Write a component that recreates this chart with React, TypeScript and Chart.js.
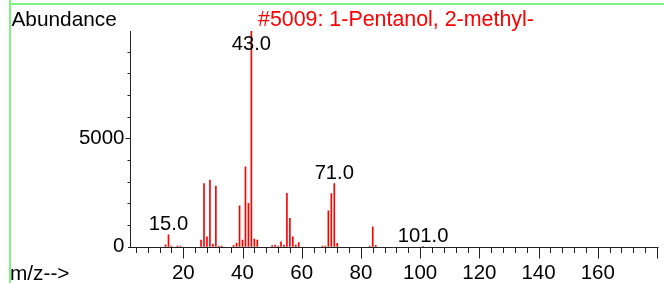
import React, { useEffect, useRef } from "react";
import { Chart, registerables } from "chart.js";

Chart.register(...registerables);

// m/z values and their abundances
const mzValues = [14, 15, 16, 18, 19, 26, 27, 28, 29, 30, 31, 32, 33, 37, 38, 39, 40, 41, 42, 43, 44, 45, 50, 51, 52, 53, 54, 55, 56, 57, 58, 59, 67, 68, 69, 70, 71, 72, 83, 84, 85, 101];
const abundances = [90, 550, 30, 30, 30, 310, 2920, 450, 3080, 125, 2800, 30, 30, 60, 170, 1890, 310, 3690, 2000, 9960, 355, 310, 50, 75, 25, 230, 75, 2460, 1310, 460, 75, 185, 30, 30, 1660, 2450, 2920, 150, 30, 920, 60, 15];
const labeledPeaks = [15, 43, 71, 101];
const xTickLabels = [20, 40, 60, 80, 100, 120, 140, 160];
const yTickLabels = [0, 5000];
const titleText = "#5009: 1-Pentanol, 2-methyl-";
const yAxisTitle = "Abundance";
const xAxisTitle = "m/z-->";

const X_MIN = 2;
const X_MAX = 180;
const Y_MAX = 9960;

const FONT = '"Liberation Sans", Arial, sans-serif';

const overlayPlugin = {
  id: "msOverlay",
  afterDatasetsDraw(chart: any) {
    const ctx = chart.ctx as CanvasRenderingContext2D;
    const xs = chart.scales.x;
    const ys = chart.scales.y;
    const area = chart.chartArea;
    ctx.save();
    ctx.strokeStyle = "#222";
    ctx.lineWidth = 1;
    const axisY = Math.round(ys.getPixelForValue(0)) + 0.5;
    const axisX = Math.round(area.left) + 0.5;
    // y-axis line
    ctx.beginPath();
    ctx.moveTo(axisX, area.top);
    ctx.lineTo(axisX, axisY);
    ctx.stroke();
    // x-axis line
    ctx.beginPath();
    ctx.moveTo(area.left - 2, axisY);
    ctx.lineTo(xs.getPixelForValue(X_MAX) + 1.5, axisY);
    ctx.stroke();
    // x ticks
    for (let v = 4; v <= X_MAX; v += 4) {
      const px = Math.round(xs.getPixelForValue(v)) + 0.5;
      const major = v % 20 === 0;
      ctx.beginPath();
      ctx.moveTo(px, axisY);
      ctx.lineTo(px, axisY + (major ? 11 : 5.5));
      ctx.stroke();
    }
    // y ticks
    for (let v = 1000; v <= Y_MAX; v += 1000) {
      const py = Math.round(ys.getPixelForValue(v)) + 0.5;
      const major = v % 5000 === 0;
      ctx.beginPath();
      ctx.moveTo(axisX, py);
      ctx.lineTo(axisX - (major ? 5 : 3), py);
      ctx.stroke();
    }
    // tick labels
    ctx.fillStyle = "#000";
    ctx.font = `20.5px ${FONT}`;
    ctx.textAlign = "center";
    ctx.textBaseline = "alphabetic";
    for (const v of xTickLabels) {
      ctx.fillText(String(v), xs.getPixelForValue(v), 278.5);
    }
    ctx.textAlign = "right";
    ctx.textBaseline = "middle";
    for (const v of yTickLabels) {
      ctx.fillText(String(v), 124.5, ys.getPixelForValue(v));
    }
    // axis titles
    ctx.font = `20.8px ${FONT}`;
    ctx.textAlign = "left";
    ctx.textBaseline = "alphabetic";
    ctx.fillText(yAxisTitle, 11.5, 25.5);
    ctx.fillText(xAxisTitle, 10, 280);
    // title
    ctx.fillStyle = "#ff0000";
    ctx.font = `21.4px ${FONT}`;
    ctx.fillText(titleText, 258, 25.5);
    // peak labels
    ctx.fillStyle = "#000";
    ctx.font = `20.2px ${FONT}`;
    ctx.textAlign = "center";
    for (const m of labeledPeaks) {
      const idx = mzValues.indexOf(m);
      const top = ys.getPixelForValue(abundances[idx]);
      const y = Math.max(top - 4.5, area.top + 19);
      ctx.fillText(m.toFixed(1), xs.getPixelForValue(m), y);
    }
    ctx.restore();
  },
};

export default function App() {
  const ref = useRef<HTMLCanvasElement | null>(null);
  useEffect(() => {
    if (!ref.current) return;
    const chart = new Chart(ref.current, {
      type: "bar",
      data: {
        datasets: [
          {
            data: mzValues.map((m, i) => ({ x: m, y: abundances[i] })),
            backgroundColor: "#ff0000",
            borderWidth: 0,
            barThickness: 1,
          },
        ],
      },
      options: {
        animation: false,
        responsive: false,
        devicePixelRatio: 1,
        layout: { padding: { left: 130, right: 7, top: 31, bottom: 36.3 } },
        plugins: { legend: { display: false }, title: { display: false }, tooltip: { enabled: false } },
        scales: {
          x: { type: "linear", min: X_MIN, max: X_MAX, display: false, offset: false, grid: { offset: false } },
          y: { type: "linear", min: 0, max: Y_MAX, display: false },
        },
      },
      plugins: [overlayPlugin],
    });
    return () => chart.destroy();
  }, []);
  return (
    <div style={{ position: "fixed", left: 0, top: 0, width: 664, height: 283, background: "#fff" }}>
      <canvas ref={ref} width={664} height={283} style={{ position: "absolute", left: 0, top: 0 }} />
      <div style={{ position: "absolute", left: 9, top: 0, width: 2, height: 283, background: "#80f080" }} />
      <div style={{ position: "absolute", left: 9, top: 3, width: 655, height: 2, background: "#80f080" }} />
    </div>
  );
}
